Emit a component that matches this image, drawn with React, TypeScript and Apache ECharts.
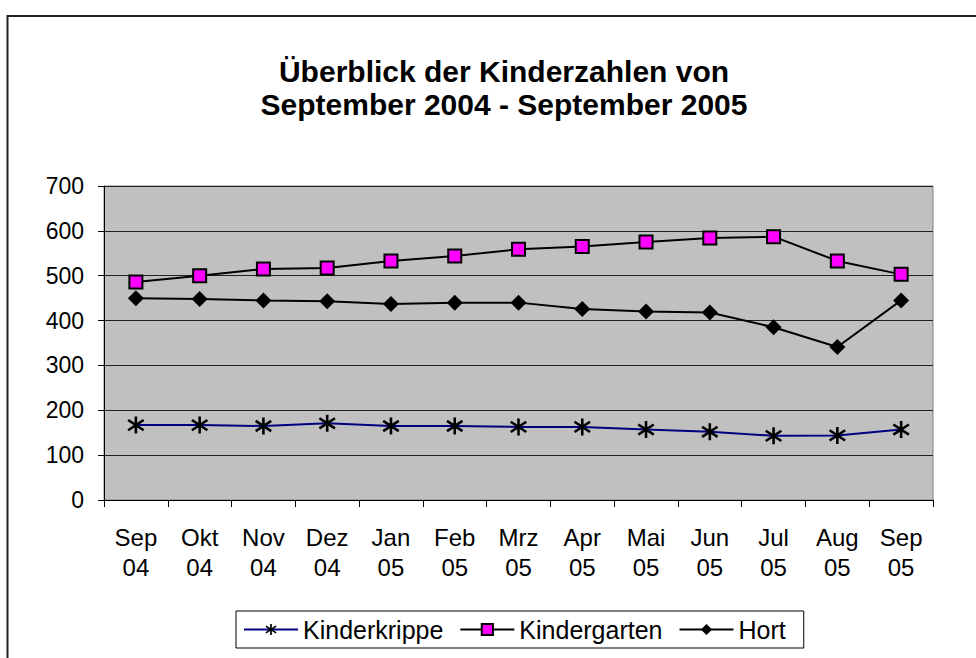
import React, { useEffect, useRef } from "react";
import * as echarts from "echarts";

const categories = ["Sep\n04", "Okt\n04", "Nov\n04", "Dez\n04", "Jan\n05", "Feb\n05", "Mrz\n05", "Apr\n05", "Mai\n05", "Jun\n05", "Jul\n05", "Aug\n05", "Sep\n05"];
const kinderkrippe = [167, 167, 165, 171, 165, 165, 163, 163, 157, 152, 143, 144, 157];
const kindergarten = [486, 500, 515, 517, 533, 544, 559, 565, 575, 584, 587, 533, 503];
const hort = [450, 448, 445, 443, 437, 440, 440, 426, 420, 418, 385, 341, 445];
const titleLines = ["Überblick der Kinderzahlen von", "September 2004 - September 2005"];

const FONT = 'Arial, "Liberation Sans", sans-serif';

const asterisk =
  "path://M8.5,0L11.5,0L11.5,20L8.5,20Z" +
  "M1.832,2.752L19.832,14.752L18.168,17.248L0.168,5.248Z" +
  "M0.168,14.752L18.168,2.752L19.832,5.248L1.832,17.248Z";

export default function App() {
  const ref = useRef<HTMLDivElement>(null);
  useEffect(() => {
    if (!ref.current) return;
    const chart = echarts.init(ref.current, undefined, { renderer: "svg" });
    chart.setOption({
      animation: false,
      backgroundColor: "#fff",
      title: {
        text: titleLines.join("\n"),
        left: 499,
        top: 50,
        textAlign: "center",
        textStyle: { fontFamily: FONT, fontSize: 30, fontWeight: "bold", color: "#000", lineHeight: 33 },
      },
      graphic: [
        {
          type: "rect",
          shape: { x: 7.5, y: 16, width: 1200, height: 1000 },
          style: { fill: "none", stroke: "#222", lineWidth: 2 },
          z: -1,
        },
      ],
      grid: {
        left: 104,
        right: 43,
        top: 186,
        bottom: 158,
        show: true,
        backgroundColor: "#C0C0C0",
        borderColor: "#808080",
        borderWidth: 1,
      },
      legend: {
        left: 236,
        top: 611,
        padding: [6, 18, 6, 7],
        borderColor: "#000",
        borderWidth: 1,
        itemWidth: 54,
        itemHeight: 14,
        itemGap: 16,
        textStyle: { fontFamily: FONT, fontSize: 25, color: "#000" },
        data: ["Kinderkrippe", "Kindergarten", "Hort"],
      },
      xAxis: {
        type: "category",
        data: categories,
        boundaryGap: true,
        axisLine: { lineStyle: { color: "#000", width: 1 } },
        axisTick: { show: true, interval: 0, length: 7, lineStyle: { color: "#000" } },
        axisLabel: { interval: 0, fontFamily: FONT, fontSize: 24, color: "#000", lineHeight: 30, margin: 22 },
        splitLine: { show: false },
      },
      yAxis: {
        type: "value",
        min: 0,
        max: 700,
        interval: 100,
        axisLine: { show: true, lineStyle: { color: "#000", width: 1 } },
        axisTick: { show: true, length: 6, lineStyle: { color: "#000" } },
        axisLabel: { fontFamily: FONT, fontSize: 23, color: "#000", margin: 20 },
        splitLine: { show: true, lineStyle: { color: "#222", width: 1 } },
      },
      series: [
        {
          name: "Kinderkrippe",
          type: "line",
          data: kinderkrippe,
          symbol: asterisk,
          symbolSize: 17,
          lineStyle: { color: "#000080", width: 2 },
          itemStyle: { color: "#000", borderWidth: 0 },
          z: 3,
        },
        {
          name: "Kindergarten",
          type: "line",
          data: kindergarten,
          symbol: "rect",
          symbolSize: 13,
          lineStyle: { color: "#000", width: 2 },
          itemStyle: { color: "#FF00FF", borderColor: "#000", borderWidth: 2 },
          z: 3,
        },
        {
          name: "Hort",
          type: "line",
          data: hort,
          symbol: "diamond",
          symbolSize: 16,
          lineStyle: { color: "#000", width: 2 },
          itemStyle: { color: "#000", borderWidth: 0 },
          z: 3,
        },
      ],
    });
    return () => chart.dispose();
  }, []);
  return <div ref={ref} style={{ width: 976, height: 658, position: "absolute", left: 0, top: 0 }} />;
}
